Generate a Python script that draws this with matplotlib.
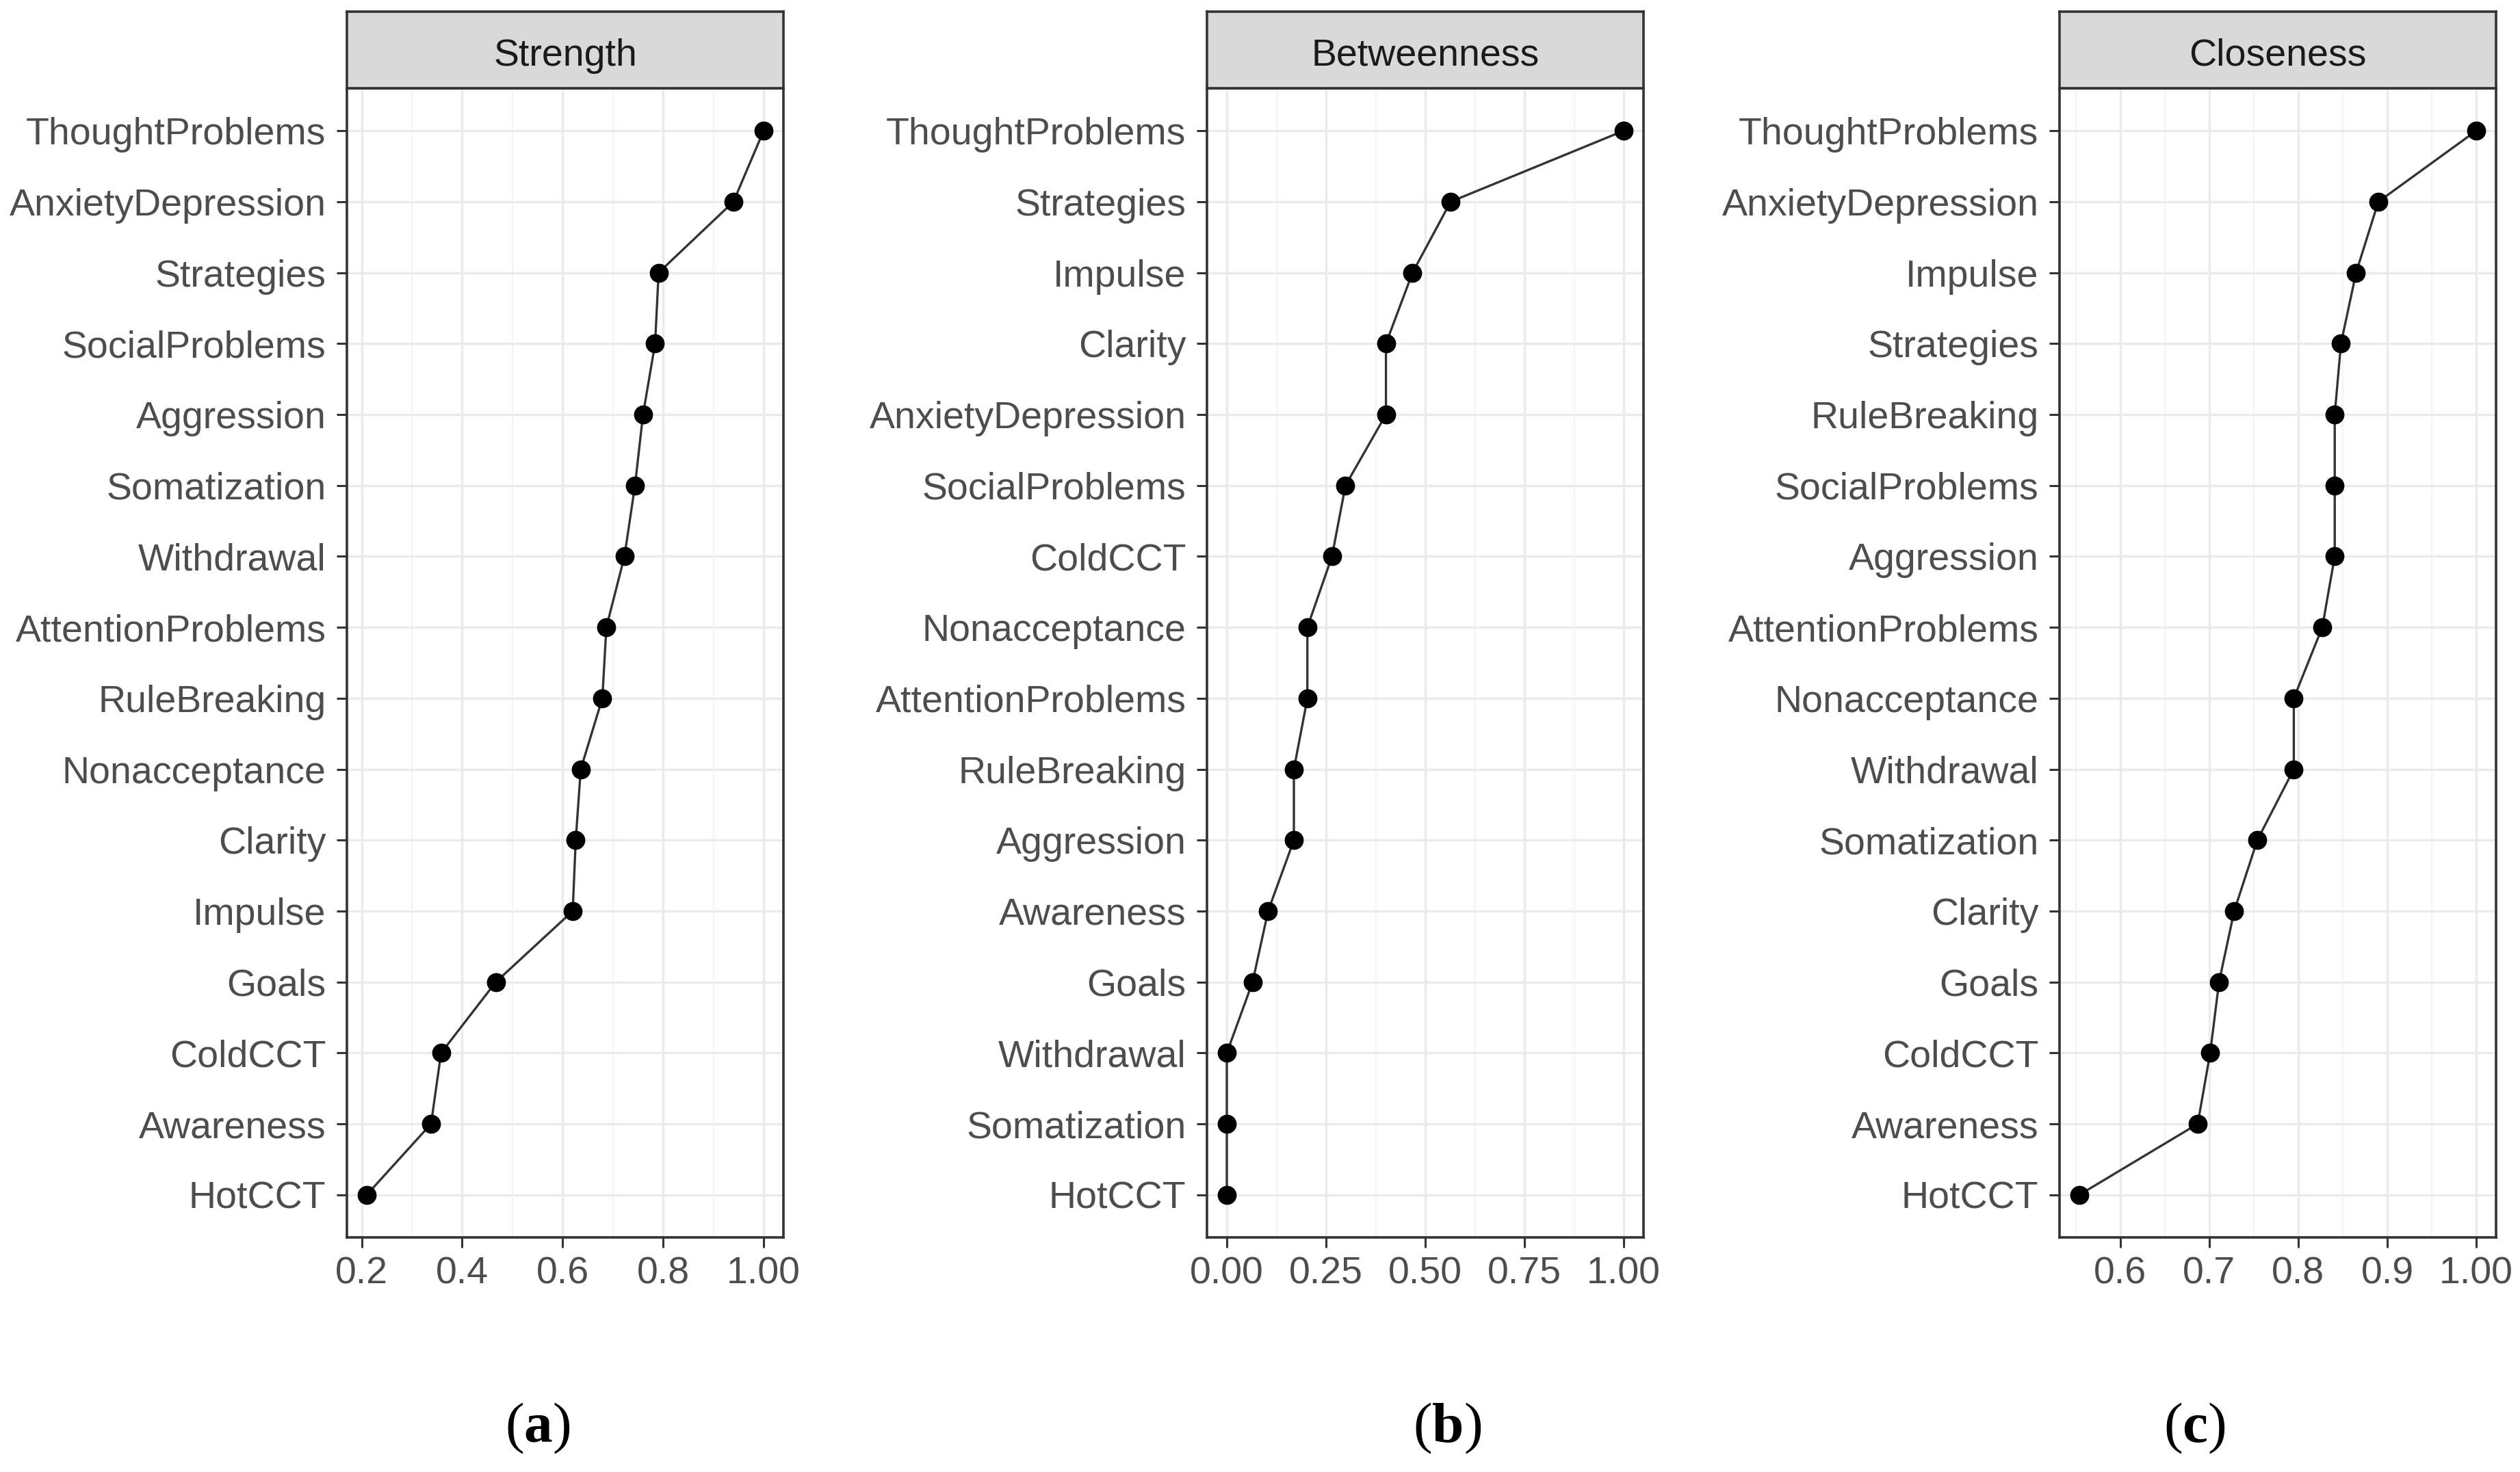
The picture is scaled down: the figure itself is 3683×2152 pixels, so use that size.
import matplotlib
matplotlib.use("Agg")
import matplotlib.pyplot as plt

plt.rcParams['font.family'] = ['Liberation Sans', 'DejaVu Sans']
plt.rcParams['mathtext.fontset'] = 'custom'
plt.rcParams['mathtext.rm'] = 'Liberation Serif'
plt.rcParams['mathtext.bf'] = 'Liberation Serif:bold'

# data, top to bottom within each panel
strength_nodes = ["ThoughtProblems", "AnxietyDepression", "Strategies", "SocialProblems",
                  "Aggression", "Somatization", "Withdrawal", "AttentionProblems",
                  "RuleBreaking", "Nonacceptance", "Clarity", "Impulse", "Goals",
                  "ColdCCT", "Awareness", "HotCCT"]
strength_vals = [1.00, 0.940, 0.791, 0.784, 0.760, 0.744, 0.723, 0.687,
                 0.679, 0.636, 0.626, 0.620, 0.467, 0.358, 0.338, 0.210]

between_nodes = ["ThoughtProblems", "Strategies", "Impulse", "Clarity",
                 "AnxietyDepression", "SocialProblems", "ColdCCT", "Nonacceptance",
                 "AttentionProblems", "RuleBreaking", "Aggression", "Awareness",
                 "Goals", "Withdrawal", "Somatization", "HotCCT"]
between_vals = [1.00, 0.564, 0.468, 0.401, 0.401, 0.299, 0.265, 0.203,
                0.203, 0.169, 0.169, 0.104, 0.065, 0.0, 0.0, 0.0]

close_nodes = ["ThoughtProblems", "AnxietyDepression", "Impulse", "Strategies",
               "RuleBreaking", "SocialProblems", "Aggression", "AttentionProblems",
               "Nonacceptance", "Withdrawal", "Somatization", "Clarity", "Goals",
               "ColdCCT", "Awareness", "HotCCT"]
close_vals = [1.00, 0.890, 0.865, 0.848, 0.841, 0.841, 0.841, 0.827,
              0.795, 0.795, 0.754, 0.728, 0.711, 0.701, 0.687, 0.554]

titles = ["Strength", "Betweenness", "Closeness"]
captions = ["a", "b", "c"]
ticks = [[0.2, 0.4, 0.6, 0.8, 1.0], [0.0, 0.25, 0.5, 0.75, 1.0], [0.6, 0.7, 0.8, 0.9, 1.0]]
tick_labels = [["0.2", "0.4", "0.6", "0.8", "1.00"],
               ["0.00", "0.25", "0.50", "0.75", "1.00"],
               ["0.6", "0.7", "0.8", "0.9", "1.00"]]
minor = [[0.3, 0.5, 0.7, 0.9], [0.125, 0.375, 0.625, 0.875], [0.55, 0.65, 0.75, 0.85, 0.95]]

W, H = 3683, 2152
fig = plt.figure(figsize=(W / 100, H / 100), dpi=100)

lefts = [507, 1764, 3010]
width = 638
ax_top, ax_bot = 129, 1809
strip_top = 17
cap_x = [786, 2115, 3207]
cap_y = 2088

panels = [(strength_nodes, strength_vals), (between_nodes, between_vals), (close_nodes, close_vals)]

for i, (nodes, vals) in enumerate(panels):
    ax = fig.add_axes([lefts[i] / W, 1 - ax_bot / H, width / W, (ax_bot - ax_top) / H])
    y = list(range(len(nodes)))
    ax.plot(vals, y, color="#333333", lw=2.4, zorder=3)
    ax.plot(vals, y, "o", color="black", ms=19, zorder=4, clip_on=False)
    ax.margins(x=0.05)
    ax.set_ylim(len(nodes) - 0.4, -0.6)
    ax.set_yticks(y)
    ax.set_yticklabels(nodes)
    ax.set_xticks(ticks[i])
    ax.set_xticklabels(tick_labels[i])
    ax.set_xticks(minor[i], minor=True)
    ax.grid(True, which="major", color="#EBEBEB", lw=2.5, zorder=0)
    ax.grid(True, which="minor", axis="x", color="#F2F2F2", lw=1.3, zorder=0)
    ax.set_axisbelow(True)
    ax.tick_params(axis="both", which="major", labelsize=40, labelcolor="#4D4D4D",
                   color="#333333", length=11, width=2.2)
    ax.tick_params(axis="x", pad=9)
    ax.tick_params(axis="y", pad=11)
    ax.tick_params(which="minor", length=0)
    for s in ax.spines.values():
        s.set_color("#333333")
        s.set_linewidth(2.6)

    # strip on top of the panel
    sax = fig.add_axes([lefts[i] / W, 1 - ax_top / H, width / W, (ax_top - strip_top) / H])
    sax.set_facecolor("#D9D9D9")
    sax.set_xticks([])
    sax.set_yticks([])
    for s in sax.spines.values():
        s.set_color("#333333")
        s.set_linewidth(2.6)
    sax.text(0.5, 0.42, titles[i], ha="center", va="center", fontsize=40,
             color="#1A1A1A", transform=sax.transAxes)

    fig.text(cap_x[i] / W, 1 - cap_y / H, r"$\mathrm{(}\mathbf{%s}\mathrm{)}$" % captions[i],
             ha="center", va="center", fontsize=60, color="black")

fig.savefig("out.png", dpi=100, facecolor="white")
